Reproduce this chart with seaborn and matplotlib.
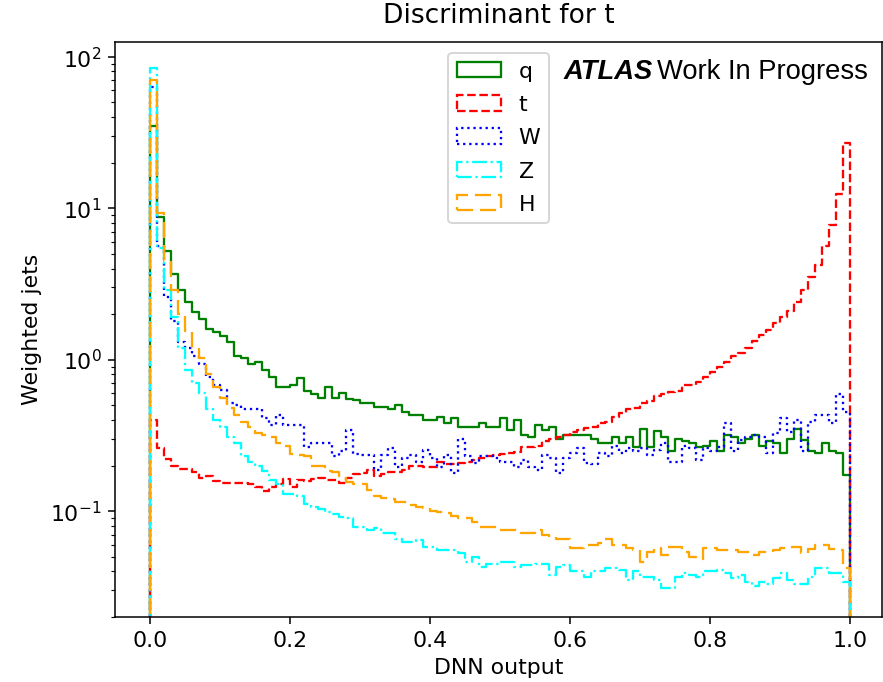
import numpy as np
import pandas as pd
import seaborn as sns
import matplotlib
matplotlib.use("Agg")
import matplotlib.pyplot as plt
from matplotlib.patches import Patch

# ---------------- data (weighted jets per bin, 100 bins on [0, 1]) ----------------
n_bins = 100
x_range = (0.0, 1.0)

labels = ["q", "t", "W", "Z", "H"]

q_vals = [35, 8.7, 5.2, 3.7, 2.9, 2.4, 2.05, 1.87, 1.6, 1.53,
          1.44, 1.3, 1.06, 1.03, 0.93, 0.97, 0.86, 0.77, 0.66, 0.66,
          0.68, 0.76, 0.62, 0.59, 0.56, 0.66, 0.56, 0.60, 0.55, 0.54,
          0.52, 0.52, 0.49, 0.49, 0.47, 0.50, 0.45, 0.43, 0.43, 0.40,
          0.40, 0.42, 0.38, 0.41, 0.36, 0.36, 0.36, 0.38, 0.36, 0.36,
          0.41, 0.345, 0.40, 0.32, 0.31, 0.37, 0.345, 0.36, 0.30, 0.32,
          0.32, 0.32, 0.32, 0.30, 0.28, 0.28, 0.31, 0.28, 0.31, 0.266,
          0.35, 0.266, 0.34, 0.31, 0.25, 0.30, 0.29, 0.28, 0.266, 0.27,
          0.29, 0.25, 0.32, 0.31, 0.28, 0.30, 0.32, 0.27, 0.29, 0.28,
          0.243, 0.30, 0.35, 0.295, 0.25, 0.243, 0.28, 0.25, 0.243, 0.174]

t_vals = [0.4, 0.26, 0.22, 0.2, 0.19, 0.19, 0.18, 0.166, 0.17, 0.157,
          0.154, 0.154, 0.154, 0.154, 0.15, 0.145, 0.136, 0.145, 0.15, 0.163,
          0.145, 0.16, 0.158, 0.163, 0.166, 0.16, 0.16, 0.154, 0.166, 0.176,
          0.178, 0.187, 0.17, 0.175, 0.18, 0.18, 0.187, 0.20, 0.20, 0.197,
          0.197, 0.21, 0.205, 0.205, 0.208, 0.21, 0.218, 0.225, 0.232, 0.235,
          0.24, 0.243, 0.245, 0.266, 0.266, 0.27, 0.29, 0.30, 0.31, 0.32,
          0.335, 0.345, 0.355, 0.36, 0.38, 0.39, 0.42, 0.445, 0.47, 0.48,
          0.52, 0.53, 0.58, 0.59, 0.61, 0.62, 0.68, 0.68, 0.71, 0.77,
          0.83, 0.90, 0.97, 1.05, 1.11, 1.2, 1.32, 1.46, 1.58, 1.75,
          1.92, 2.1, 2.4, 2.9, 3.5, 4.25, 5.6, 7.7, 12.5, 27]

w_vals = [63, 5.6, 2.6, 1.8, 1.3, 1.2, 1.05, 0.93, 0.77, 0.68,
          0.63, 0.52, 0.5, 0.47, 0.47, 0.47, 0.41, 0.37, 0.43, 0.37,
          0.37, 0.37, 0.266, 0.28, 0.28, 0.28, 0.23, 0.25, 0.345, 0.24,
          0.235, 0.235, 0.187, 0.235, 0.26, 0.196, 0.225, 0.235, 0.21, 0.255,
          0.225, 0.196, 0.235, 0.178, 0.30, 0.23, 0.208, 0.23, 0.23, 0.225,
          0.21, 0.21, 0.196, 0.218, 0.196, 0.187, 0.235, 0.225, 0.178, 0.225,
          0.243, 0.26, 0.208, 0.205, 0.243, 0.23, 0.27, 0.243, 0.26, 0.248,
          0.26, 0.235, 0.255, 0.28, 0.21, 0.21, 0.27, 0.26, 0.218, 0.26,
          0.25, 0.266, 0.38, 0.25, 0.295, 0.31, 0.32, 0.31, 0.243, 0.33,
          0.41, 0.335, 0.40, 0.25, 0.39, 0.43, 0.43, 0.38, 0.59, 0.45]

z_vals = [84, 5.5, 2.9, 1.9, 1.2, 0.85, 0.7, 0.6, 0.47, 0.4,
          0.36, 0.31, 0.28, 0.23, 0.21, 0.2, 0.185, 0.16, 0.15, 0.13,
          0.13, 0.125, 0.112, 0.106, 0.104, 0.098, 0.096, 0.092, 0.09, 0.079,
          0.079, 0.075, 0.077, 0.072, 0.072, 0.065, 0.063, 0.063, 0.064, 0.058,
          0.058, 0.055, 0.055, 0.055, 0.053, 0.046, 0.05, 0.043, 0.045, 0.045,
          0.046, 0.046, 0.043, 0.044, 0.044, 0.045, 0.045, 0.038, 0.043, 0.044,
          0.04, 0.04, 0.037, 0.04, 0.04, 0.042, 0.042, 0.041, 0.035, 0.04,
          0.037, 0.037, 0.035, 0.031, 0.031, 0.037, 0.039, 0.038, 0.037, 0.04,
          0.04, 0.041, 0.039, 0.036, 0.038, 0.034, 0.032, 0.034, 0.033, 0.036,
          0.039, 0.035, 0.033, 0.033, 0.037, 0.042, 0.042, 0.039, 0.039, 0.034]

h_vals = [70, 9.3, 4.5, 2.9, 2.0, 1.55, 1.2, 1.02, 0.8, 0.66,
          0.56, 0.48, 0.43, 0.39, 0.36, 0.33, 0.32, 0.31, 0.28, 0.27,
          0.24, 0.235, 0.23, 0.2, 0.2, 0.185, 0.18, 0.17, 0.155, 0.152,
          0.15, 0.138, 0.125, 0.122, 0.12, 0.115, 0.115, 0.11, 0.107, 0.105,
          0.1, 0.098, 0.097, 0.093, 0.09, 0.09, 0.085, 0.078, 0.078, 0.079,
          0.075, 0.075, 0.075, 0.072, 0.072, 0.075, 0.07, 0.068, 0.065, 0.065,
          0.057, 0.057, 0.06, 0.06, 0.062, 0.065, 0.06, 0.06, 0.057, 0.055,
          0.046, 0.054, 0.057, 0.051, 0.058, 0.058, 0.054, 0.05, 0.048, 0.057,
          0.057, 0.055, 0.055, 0.055, 0.054, 0.054, 0.051, 0.054, 0.054, 0.055,
          0.057, 0.058, 0.058, 0.053, 0.056, 0.06, 0.06, 0.056, 0.055, 0.042]

series_vals = [q_vals, t_vals, w_vals, z_vals, h_vals]

# ---------------- style ----------------
colors = ["green", "red", "blue", "cyan", "orange"]
styles = ["-", "--", ":", "-.", (0, (7, 3))]
LW = 1.2

plt.rcParams["font.size"] = 11.5

DPI = 138
fig = plt.figure(figsize=(883.4 / DPI, 682.4 / DPI), dpi=DPI)
ax = fig.add_axes([115 / 883, 1 - 617 / 682, (882 - 115) / 883, (617 - 42) / 682])
ax.set_yscale("log")

width = (x_range[1] - x_range[0]) / n_bins
centers = x_range[0] + width * (np.arange(n_bins) + 0.5)

for lab, vals, c, ls in zip(labels, series_vals, colors, styles):
    df = pd.DataFrame({"x": centers, "w": vals})
    # one empty bin on each side so the outline drops to the axis floor
    sns.histplot(data=df, x="x", weights="w", bins=n_bins + 2,
                 binrange=(x_range[0] - width, x_range[1] + width),
                 element="step", fill=False, color=c, linestyle=ls,
                 linewidth=LW, ax=ax)

ax.set_xlim(-0.05, 1.046)
ax.set_ylim(0.02, 126)
ax.set_xticks([0.0, 0.2, 0.4, 0.6, 0.8, 1.0])
ax.set_xlabel("DNN output")
ax.set_ylabel("Weighted jets")
ax.set_title("Discriminant for t", fontsize=13.8, pad=10)

handles = [Patch(facecolor="none", edgecolor=c, linestyle=ls, linewidth=LW, label=l)
           for l, c, ls in zip(labels, colors, styles)]
ax.legend(handles=handles, loc="upper center", labelspacing=0.6)

atl = ax.text(0.585, 0.935, "ATLAS", transform=ax.transAxes, fontsize=14.3,
              fontweight="bold", fontstyle="italic", family="Liberation Sans")
ax.annotate("Work In Progress", xy=(1, 0), xycoords=atl, xytext=(2, 0),
            textcoords="offset points", fontsize=14.3, family="Liberation Sans",
            va="bottom")

fig.savefig("out.png", dpi=DPI)
